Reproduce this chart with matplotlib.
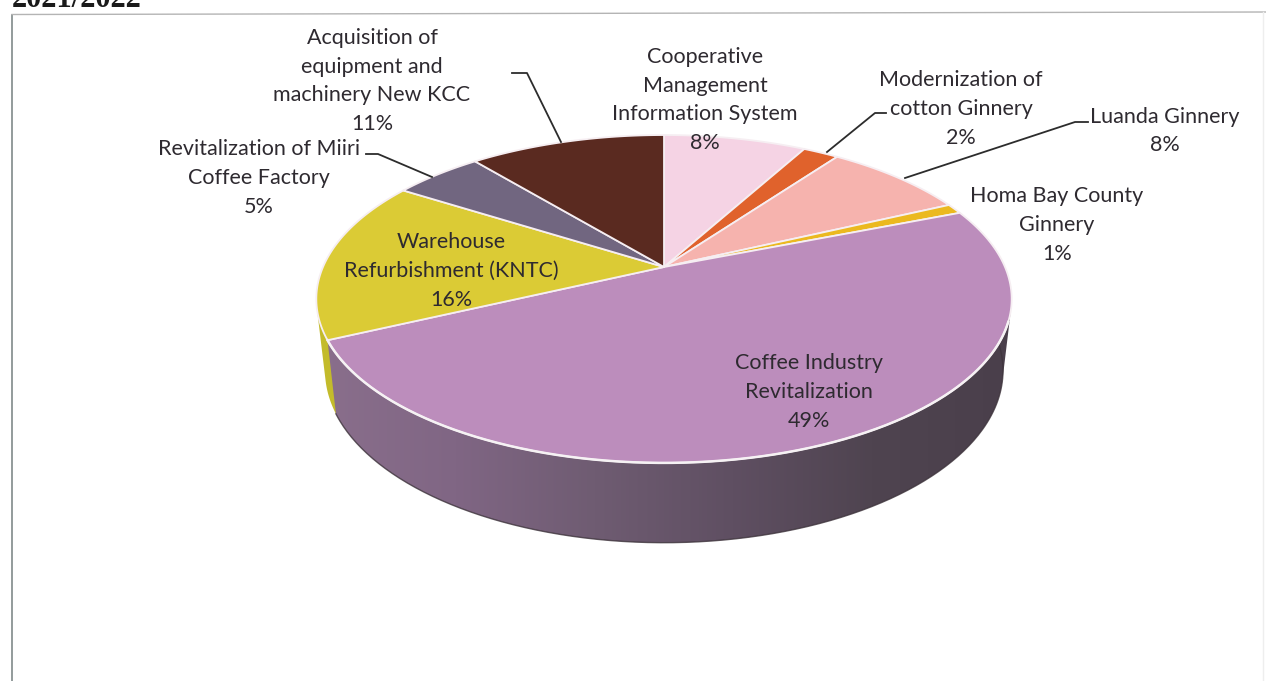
import numpy as np
import matplotlib
matplotlib.use("Agg")
import matplotlib.pyplot as plt
from matplotlib.patches import Polygon
from matplotlib.colors import LinearSegmentedColormap

# ---- data ----
categories = ["Cooperative\nManagement\nInformation System",
              "Modernization of\ncotton Ginnery",
              "Luanda Ginnery",
              "Homa Bay County\nGinnery",
              "Coffee Industry\nRevitalization",
              "Warehouse\nRefurbishment (KNTC)",
              "Revitalization of Miiri\nCoffee Factory",
              "Acquisition of\nequipment and\nmachinery New KCC"]
values = [8, 2, 8, 1, 49, 16, 5, 11]
colors = ["#F5D3E4", "#E0622C", "#F6B3AE", "#EBB91F", "#BC8DBC", "#DBCB35", "#716680", "#5A2A20"]
label_x = [705, 961, 1165, 1057, 809, 451, 259, 372]
label_y = [100, 109, 131, 225, 392, 271, 178, 81]
leaders = {1: [(886, 113), (875, 113), (827, 152)],
           2: [(1088, 122), (1075, 122), (905, 178)],
           6: [(366, 154), (378, 154), (432, 177)],
           7: [(512, 73), (527, 73), (561, 142)]}

W, H = 1266, 681
plt.rcParams["font.family"] = ["Lato", "DejaVu Sans"]
fig = plt.figure(figsize=(W / 100, H / 100), dpi=100, facecolor="white")
ax = fig.add_axes([0, 0, 1, 1])
ax.set_xlim(0, W)
ax.set_ylim(H, 0)
ax.axis("off")

CX, CY = 664.0, 267.0
A, B, K = 341.0, 157.7, 0.195
DEPTH, SCALE_X, SCALE_Y = 70.0, 0.975, 1.05


def project(theta, low=False):
    x, y = np.sin(theta), np.cos(theta)
    w = 1 + K * y
    sx = SCALE_X if low else 1.0
    sy = SCALE_Y if low else 1.0
    cy = CY + DEPTH if low else CY
    return CX + sx * A * x / w, cy - sy * B * y / w


def convex_hull(points):
    pts = sorted(map(tuple, points))

    def half(seq):
        out = []
        for p in seq:
            while len(out) > 1 and ((out[-1][0] - out[-2][0]) * (p[1] - out[-2][1])
                                    - (out[-1][1] - out[-2][1]) * (p[0] - out[-2][0])) <= 0:
                out.pop()
            out.append(p)
        return out[:-1]

    return np.array(half(pts) + half(pts[::-1]))


edges = np.cumsum([0] + values) / sum(values) * 2 * np.pi

wall_cmap = LinearSegmentedColormap.from_list(
    "wall", ["#8A6F8C", "#806684", "#6F5C72", "#5F4F62", "#4F4450", "#4A3F4B"])
yellow_cmap = LinearSegmentedColormap.from_list("ywall", ["#C4BC2C", "#A8A626"])

# side walls: only the warehouse and coffee slices show a wall at the front
for i, cmap in ((5, yellow_cmap), (4, wall_cmap)):
    t = np.linspace(edges[i], edges[i + 1], 300)
    xt, yt = project(t)
    xb, yb = project(t, low=True)
    hull = convex_hull(np.column_stack([np.r_[xt, xb], np.r_[yt, yb]]))
    poly = Polygon(hull, closed=True, fc="none", ec="none", zorder=2)
    ax.add_patch(poly)
    grad = np.linspace(0, 1, 256).reshape(1, -1)
    im = ax.imshow(grad, extent=[316, 1012, 560, 130], aspect="auto", cmap=cmap, zorder=2)
    ax.set_xlim(0, W)
    ax.set_ylim(H, 0)
    im.set_clip_path(poly)

# dark rim on the lower outline of the coffee wall
t = np.linspace(edges[4], edges[5], 300)
xb, yb = project(t, low=True)
ax.plot(xb, yb, color="#3E343C", lw=1.0, alpha=0.8, zorder=3)

# top surface
for i, (v, c) in enumerate(zip(values, colors)):
    t = np.linspace(edges[i], edges[i + 1], 160)
    xt, yt = project(t)
    ax.fill(np.r_[CX, xt], np.r_[CY, yt], fc=c, ec="#F6EEF2", lw=1.3,
            joinstyle="round", zorder=4)

# light rim on the front of the coffee slice
t = np.linspace(edges[4], edges[5], 400)
xt, yt = project(t)
front = yt > 322
ax.plot(xt[front], yt[front], color="#F6F2F4", lw=1.8, zorder=5)

# labels
for i, (cat, v) in enumerate(zip(categories, values)):
    ax.text(label_x[i], label_y[i], f"{cat}\n{v}%", ha="center", va="center",
            fontsize=15.5, color="#2E2A30", linespacing=1.56, zorder=6)

# leader lines
for pts in leaders.values():
    xs, ys = zip(*pts)
    ax.plot(xs, ys, color="#2C2C2C", lw=1.3, zorder=5, solid_joinstyle="round")

# chart frame and clipped heading of the scanned page
ax.plot([12, 12], [15, H], color="#808A8A", lw=1.2, zorder=1)
ax.plot([12, W], [14.5, 12], color="#B4B4B4", lw=1.0, zorder=1)
ax.plot([1263, 1263], [12, H], color="#EEEEEE", lw=1.0, zorder=1)
ax.text(12, 7, "2021/2022", family="Liberation Serif", weight="bold",
        fontsize=22, color="#1A1A1A", ha="left", va="baseline")

fig.savefig("out.png", dpi=100)
